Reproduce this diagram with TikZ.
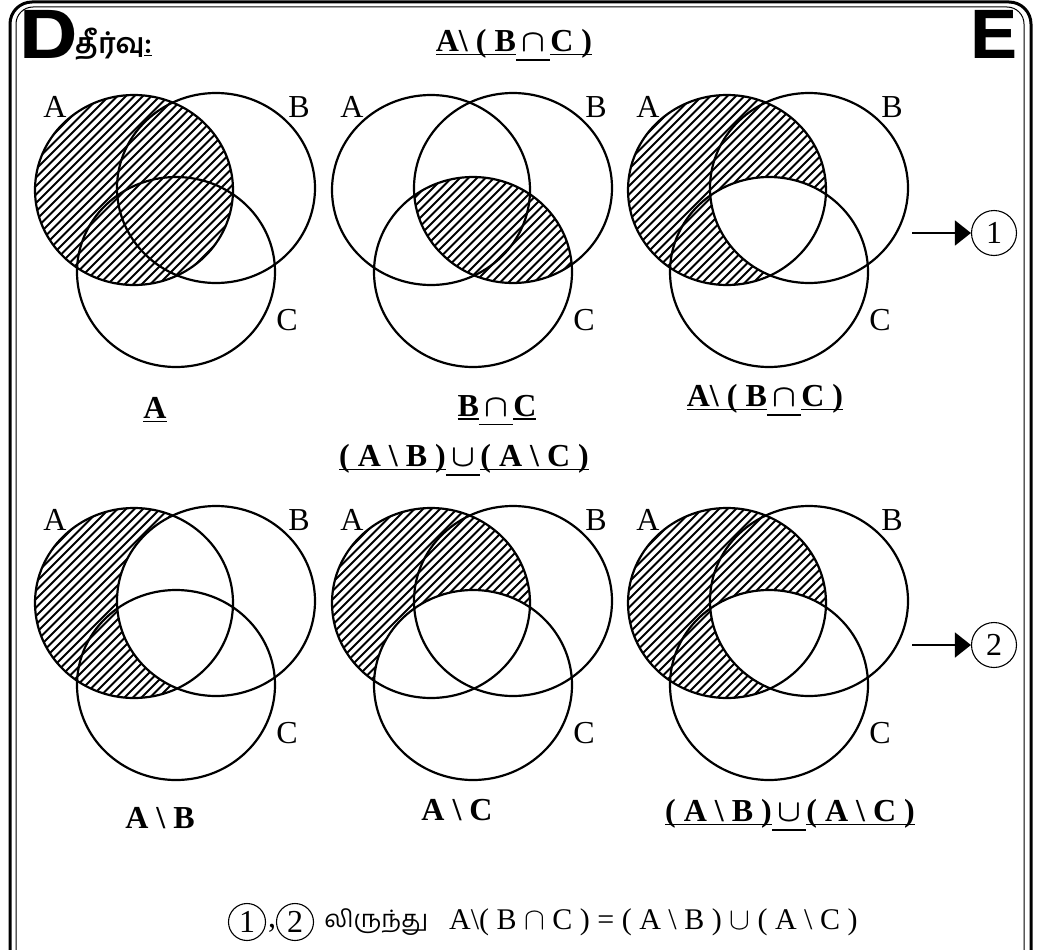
\documentclass[tikz,border=0pt]{standalone}
\usepackage{fontspec}
\setmainfont{Liberation Serif}
\newfontfamily\tamil[Script=Tamil]{Hind Madurai}
\newfontfamily\heros{TeX Gyre Heros}
\usetikzlibrary{arrows.meta}
\newcommand\ulr[2]{\setbox0=\hbox{#2}\rlap{\rule[#1]{\wd0}{1.5pt}}\box0}
\newcommand\bcap{\scalebox{1.25}{$\cap$}}
\newcommand\bcup{\scalebox{1.25}{$\cup$}}
\newcommand\hatchat[2]{\foreach \i in {-26,...,26}{\draw[hatchline] ({#1+8.5*\i-150},{#2+150}) -- ++(300,-300);}}
\newcommand\clipA{\clip (134,190) ellipse [x radius=99pt, y radius=95pt];}
\newcommand\clipB{\clip (216,188) ellipse [x radius=99pt, y radius=95pt];}
\newcommand\clipC{\clip (176,272) ellipse [x radius=99pt, y radius=95pt];}
\newcommand\fillwB{\fill[white] (216,188) ellipse [x radius=99pt, y radius=95pt];}
\newcommand\fillwC{\fill[white] (176,272) ellipse [x radius=99pt, y radius=95pt];}
\newcommand\outlines[1]{%
  \draw[vennline] (134,190) ellipse [x radius=99pt, y radius=95pt];
  \draw[vennline] (216,188) ellipse [x radius=99pt, y radius=95pt];
  \draw[vennline] (176,272) ellipse [x radius=99pt, y radius=95pt];
  \node[setlbl] (#1a) at (55,107) {A};
  \node[setlbl] (#1b) at (299,107) {B};
  \node[setlbl] (#1c) at (287,320) {C};}
\tikzset{
  vennline/.style={line width=2.2pt},
  hatchline/.style={line width=1.8pt},
  setlbl/.style={font=\fontsize{32}{36}\selectfont, inner sep=0},
  boldlbl/.style={font=\bfseries\boldmath\fontsize{32}{36}\selectfont, inner sep=0},
  numcirc/.style={circle, draw, line width=1.1pt, minimum size=45pt, inner sep=0, font=\fontsize{32}{36}\selectfont},
  arrowline/.style={line width=1.5pt, -{Triangle[length=16pt,width=25pt]}},
}
\begin{document}
\begin{tikzpicture}[x=1pt,y=-1pt]
\useasboundingbox (0,0) rectangle (1041,950);
% frame
\draw[line width=3pt, rounded corners=22pt] (10,960) -- (10,2) -- (1031,2) -- (1031,960);
\draw[line width=1pt, rounded corners=17pt] (16,960) -- (16,7) -- (1024,7) -- (1024,960);
\node[inner sep=0, font=\heros\bfseries\fontsize{66}{70}\selectfont] (bigD) at (48,34) {\scalebox{1.25}[1]{D}};
\node[inner sep=0, font=\heros\bfseries\fontsize{66}{70}\selectfont] (bigE) at (994,34) {\scalebox{1.1}[1]{E}};
\node[inner sep=0, anchor=west, font=\tamil\bfseries\fontsize{28}{32}\selectfont] (sol) at (75,44) {தீர்வு\underline{:}};
\node[boldlbl] (title) at (514,45) {\ulr{-3.5pt}{A\textbackslash\ ( B}\ulr{-9pt}{\,\bcap\,}\ulr{-3.5pt}{C )}};
% row 1
\begin{scope}
  \begin{scope}\clipA\hatchat{134}{190}\end{scope}
  \outlines{ra}
\end{scope}
\begin{scope}[shift={(297,0)}]
  \begin{scope}\clipB\clipC\hatchat{196}{230}\end{scope}
  \outlines{rb}
\end{scope}
\begin{scope}[shift={(593,0)}]
  \begin{scope}\clipA\hatchat{134}{190}\end{scope}
  \begin{scope}\clipB\fillwC\end{scope}
  \outlines{rc}
\end{scope}
\node[boldlbl] (lblA) at (155,410) {\ulr{-3.5pt}{A}};
\node[boldlbl] (lblBC) at (497,410) {\ulr{-3.5pt}{B}\ulr{-9pt}{\,\bcap\,}\ulr{-3.5pt}{C}};
\node[boldlbl] (lblABC) at (765,400) {\ulr{-3.5pt}{A\textbackslash\ ( B}\ulr{-9pt}{\,\bcap\,}\ulr{-3.5pt}{C )}};
\node[boldlbl] (title2) at (464,460) {\ulr{-3.5pt}{( A \textbackslash\ B )}\ulr{-9pt}{\,\bcup\,}\ulr{-3.5pt}{( A \textbackslash\ C )}};
% row 2
\begin{scope}[shift={(0,413)}]
  \begin{scope}\clipA\hatchat{134}{190}\end{scope}
  \fillwB
  \outlines{sa}
\end{scope}
\begin{scope}[shift={(297,413)}]
  \begin{scope}\clipA\hatchat{134}{190}\end{scope}
  \fillwC
  \outlines{sb}
\end{scope}
\begin{scope}[shift={(593,413)}]
  \begin{scope}\clipA\hatchat{134}{190}\end{scope}
  \begin{scope}\clipB\fillwC\end{scope}
  \outlines{sc}
\end{scope}
\node[boldlbl] (lblAB) at (160,818) {A \textbackslash\ B};
\node[boldlbl] (lblAC) at (457,810) {A \textbackslash\ C};
\node[boldlbl] (lblU) at (790,815) {\ulr{-3.5pt}{( A \textbackslash\ B )}\ulr{-9pt}{\,\bcup\,}\ulr{-3.5pt}{( A \textbackslash\ C )}};
% arrows
\coordinate (ar1) at (912,233);
\node[numcirc] (c1) at (994,233) {1};
\draw[arrowline] (ar1) -- (c1.west);
\coordinate (ar2) at (912,645);
\node[numcirc] (c2) at (994,645) {2};
\draw[arrowline] (ar2) -- (c2.west);
% bottom line
\node[numcirc, minimum size=37pt] (b1) at (247,922) {1};
\node[setlbl] (comma) at (272,928) {,};
\node[numcirc, minimum size=37pt] (b2) at (295,922) {2};
\node[inner sep=0, anchor=west, font=\tamil\fontsize{24}{28}\selectfont] (from) at (324,922) {லிருந்து};
\node[anchor=west, inner sep=0, font=\fontsize{30}{34}\selectfont] (eq) at (449,922) {A\textbackslash( B \bcap\ C ) = ( A \textbackslash\ B ) \bcup\ ( A \textbackslash\ C )};
\end{tikzpicture}
\end{document}
